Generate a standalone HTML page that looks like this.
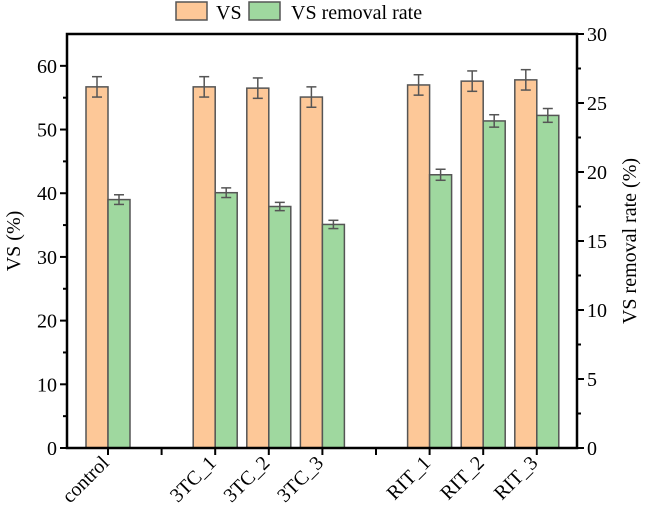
<!DOCTYPE html>
<html><head><meta charset="utf-8"><style>
body{margin:0;background:#fff}
svg text{font-family:"Liberation Serif",serif;fill:#000}
</style></head><body>
<svg width="646" height="518" xmlns="http://www.w3.org/2000/svg">
<g id="bars"></g>
<g id="axes"></g>
<g>
<rect x="176" y="2" width="31" height="18" fill="#fdc898" stroke="#555" stroke-width="1.5"/>
<text x="216" y="19" font-size="20">VS</text>
<rect x="249" y="2" width="31" height="18" fill="#9fd89f" stroke="#555" stroke-width="1.5"/>
<text x="291" y="19" font-size="20">VS removal rate</text>
</g>
<text transform="translate(20,241) rotate(-90)" text-anchor="middle" font-size="20">VS (%)</text>
<text transform="translate(636,241) rotate(-90)" text-anchor="middle" font-size="20">VS removal rate (%)</text>
</svg>
<script>
const categories=["control","","3TC_1","3TC_2","3TC_3","","RIT_1","RIT_2","RIT_3"];
const vsValues=[56.7,null,56.7,56.5,55.1,null,57.0,57.6,57.8];
const vsErrors=[1.6,null,1.6,1.6,1.6,null,1.6,1.6,1.6];
const rateValues=[18.0,null,18.5,17.5,16.2,null,19.8,23.7,24.1];
const rateErrors=[0.35,null,0.35,0.3,0.3,null,0.4,0.45,0.5];
const leftTicks=[0,10,20,30,40,50,60];
const rightTicks=[0,5,10,15,20,25,30];
const NS="http://www.w3.org/2000/svg";
const L=67,R=577,T=34,B=448;
const xc=i=>108+53.6*i;
const yl=v=>B-(v/65)*(B-T);
const yr=v=>B-(v/30)*(B-T);
const bw=22;
function mk(tag,attrs,parent){const e=document.createElementNS(NS,tag);for(const k in attrs)e.setAttribute(k,attrs[k]);parent.appendChild(e);return e;}
const bars=document.getElementById('bars'),axes=document.getElementById('axes');
function errbar(x,y1,y2,parent){
 const g=mk('g',{stroke:'#555','stroke-width':1.5},parent);
 
 
 mk('line',{x1:x,x2:x,y1:y1,y2:y2},g);
 mk('line',{x1:x-5,x2:x+5,y1:y1,y2:y1},g);
 mk('line',{x1:x-5,x2:x+5,y1:y2,y2:y2},g);
}
categories.forEach((c,i)=>{
 if(vsValues[i]==null)return;
 const x=xc(i);
 const r1=mk('rect',{x:x-bw,y:yl(vsValues[i]),width:bw,height:B-yl(vsValues[i]),fill:'#fdc898',stroke:'#555','stroke-width':1.5},bars);
 
 
 errbar(x-bw/2,yl(vsValues[i]+vsErrors[i]),yl(vsValues[i]-vsErrors[i]),bars);
 const r2=mk('rect',{x:x,y:yr(rateValues[i]),width:bw,height:B-yr(rateValues[i]),fill:'#9fd89f',stroke:'#555','stroke-width':1.5},bars);
 
 
 errbar(x+bw/2,yr(rateValues[i]+rateErrors[i]),yr(rateValues[i]-rateErrors[i]),bars);
});
mk('rect',{x:L,y:T,width:R-L,height:B-T,fill:'none',stroke:'#000','stroke-width':2.5},axes);
leftTicks.forEach(v=>{const y=yl(v);mk('line',{x1:L-7,x2:L,y1:y,y2:y,stroke:'#000','stroke-width':2},axes);
 const t=mk('text',{x:L-10,y:y+7,'text-anchor':'end','font-size':20},axes);t.textContent=v;
 
 if(v<60){const ym=yl(v+5);mk('line',{x1:L-4,x2:L,y1:ym,y2:ym,stroke:'#000','stroke-width':2},axes);}});
rightTicks.forEach(v=>{const y=yr(v);mk('line',{x1:R,x2:R+7,y1:y,y2:y,stroke:'#000','stroke-width':2},axes);
 const t=mk('text',{x:R+10,y:y+7,'font-size':20},axes);t.textContent=v;
 
 if(v<30){const ym=yr(v+2.5);mk('line',{x1:R,x2:R+4,y1:ym,y2:ym,stroke:'#000','stroke-width':2},axes);}});
categories.forEach((c,i)=>{const x=xc(i);mk('line',{x1:x,x2:x,y1:B,y2:B+7,stroke:'#000','stroke-width':2},axes);
 if(!c)return;
 const t=mk('text',{transform:`translate(${x+2},${B+16}) rotate(-45)`,'text-anchor':'end','font-size':20},axes);t.textContent=c;
 });
</script>
</body></html>
